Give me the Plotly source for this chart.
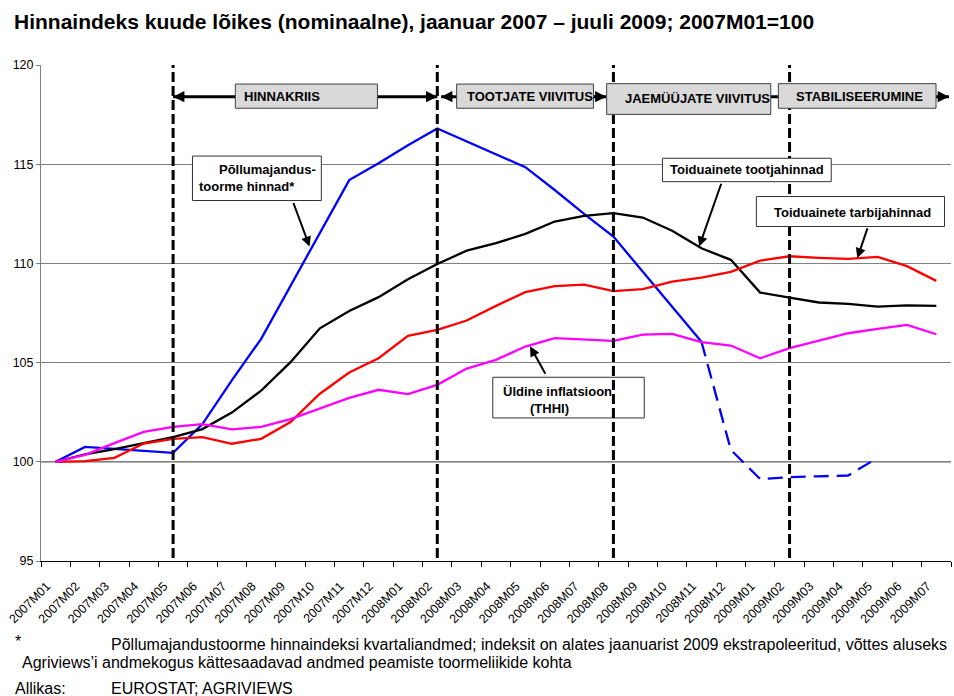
import plotly.graph_objects as go

# ---------------- data ----------------
months = ["2007M01", "2007M02", "2007M03", "2007M04", "2007M05", "2007M06", "2007M07",
          "2007M08", "2007M09", "2007M10", "2007M11", "2007M12", "2008M01", "2008M02",
          "2008M03", "2008M04", "2008M05", "2008M06", "2008M07", "2008M08", "2008M09",
          "2008M10", "2008M11", "2008M12", "2009M01", "2009M02", "2009M03", "2009M04",
          "2009M05", "2009M06", "2009M07"]

agri_raw = [100.0, 100.75, 100.65, 100.55, 100.45, 101.9, 104.1, 106.2, 108.85, 111.5,
            114.2, 115.05, 115.95, 116.8, 116.15, 115.5, 114.85, 113.7, 112.5, 111.35,
            109.6, 107.85, 106.05, 100.6, 99.13, 99.23, 99.27, 99.31, 100.2, None, None]
extrap_from = "2008M11"   # last actual point; afterwards extrapolated (dashed)

producer = [100.0, 100.38, 100.64, 100.94, 101.24, 101.65, 102.48, 103.59, 105.02, 106.73,
            107.6, 108.3, 109.2, 109.97, 110.64, 111.02, 111.49, 112.11, 112.39, 112.53,
            112.31, 111.65, 110.76, 110.18, 108.53, 108.28, 108.03, 107.96, 107.82, 107.88,
            107.86]

consumer = [100.0, 100.03, 100.2, 100.92, 101.16, 101.24, 100.91, 101.16, 102.0, 103.43,
            104.5, 105.22, 106.35, 106.65, 107.12, 107.86, 108.55, 108.85, 108.93, 108.6,
            108.7, 109.08, 109.28, 109.57, 110.14, 110.36, 110.28, 110.23, 110.33, 109.86,
            109.12]

hicp = [100.0, 100.35, 100.94, 101.51, 101.76, 101.9, 101.63, 101.76, 102.15, 102.69,
        103.22, 103.63, 103.41, 103.88, 104.7, 105.14, 105.81, 106.23, 106.15, 106.1,
        106.41, 106.45, 106.03, 105.86, 105.22, 105.73, 106.11, 106.48, 106.7, 106.9,
        106.43]

phase_bounds = ["2007M05", "2008M02", "2008M08", "2009M02"]
phase_names = ["HINNAKRIIS", "TOOTJATE VIIVITUS", "JAEMÜÜJATE VIIVITUS", "STABILISEERUMINE"]

title_text = "Hinnaindeks kuude lõikes (nominaalne), jaanuar 2007 – juuli 2009; 2007M01=100"
footnote_1 = "Põllumajandustoorme hinnaindeksi kvartaliandmed; indeksit on alates jaanuarist 2009 ekstrapoleeritud, võttes aluseks"
footnote_2 = "Agriviews’i andmekogus kättesaadavad andmed peamiste toormeliikide kohta"
source_label = "Allikas:"
source_text = "EUROSTAT; AGRIVIEWS"

# ---------------- figure ----------------
FONT = "Liberation Sans, Arial, sans-serif"
k = months.index(extrap_from)
agri_actual = [v if i <= k else None for i, v in enumerate(agri_raw)]
agri_extrap = [v if i >= k else None for i, v in enumerate(agri_raw)]

fig = go.Figure()
fig.add_trace(go.Scatter(x=months, y=agri_actual, mode="lines",
                         line=dict(color="#0000FF", width=2.3)))
fig.add_trace(go.Scatter(x=months, y=agri_extrap, mode="lines",
                         line=dict(color="#0000FF", width=2.3, dash="15px,8px")))
fig.add_trace(go.Scatter(x=months, y=producer, mode="lines",
                         line=dict(color="#000000", width=2.3)))
fig.add_trace(go.Scatter(x=months, y=consumer, mode="lines",
                         line=dict(color="#FF0000", width=2.3)))
fig.add_trace(go.Scatter(x=months, y=hicp, mode="lines",
                         line=dict(color="#FF00FF", width=2.3)))

shapes = []
annotations = []

# reference line at 100
shapes.append(dict(type="line", xref="paper", x0=0, x1=1, yref="y", y0=100, y1=100,
                   line=dict(color="black", width=1), layer="below"))

def box(x0, x1, y0, y1, fill="white", border="#333333"):
    shapes.append(dict(type="rect", xref="x", yref="y", x0=x0, x1=x1, y0=y0, y1=y1,
                       fillcolor=fill, line=dict(color=border, width=1), layer="above"))

def text(x, y, s, anchor="left", size=13):
    annotations.append(dict(x=x, y=y, xref="x", yref="y", text=s, showarrow=False,
                            xanchor=anchor, yanchor="middle",
                            font=dict(family=FONT, size=size, color="black")))

def arrow(xt, yt, xs, ys, width=2, size=1.0):
    annotations.append(dict(x=xt, y=yt, ax=xs, ay=ys, xref="x", yref="y", axref="x",
                            ayref="y", text="", showarrow=True, arrowhead=2,
                            arrowsize=size, arrowwidth=width, arrowcolor="black",
                            standoff=0, startstandoff=0))

# THHI box lies under the dashed phase lines
box(14.89, 20.05, 102.21, 104.26)

# dashed phase boundaries
pb = [months.index(m) for m in phase_bounds]
for xb in pb:
    shapes.append(dict(type="line", xref="x", yref="y", x0=xb, x1=xb, y0=95.15, y1=120,
                       line=dict(color="black", width=3, dash="10px,4px"), layer="above"))

# horizontal phase arrows (shafts)
ya = 118.4
segs = [(pb[0], pb[1]), (pb[1] + 0.13, 18.76), (pb[2], pb[3]), (pb[3], 30.43)]
for a, b in segs:
    shapes.append(dict(type="line", xref="x", yref="y", x0=a, x1=b, y0=ya, y1=ya,
                       line=dict(color="black", width=3), layer="above"))

# phase label boxes
GREY = "#D9D9D9"
box(6.12, 10.96, 117.82, 119.04, fill=GREY, border="#404040")
box(13.66, 18.32, 117.82, 119.04, fill=GREY, border="#404040")
box(18.77, 24.36, 117.51, 119.06, fill=GREY, border="#404040")
box(24.62, 29.99, 117.82, 119.06, fill=GREY, border="#404040")
text(6.35, 118.40, "<b>%s</b>" % phase_names[0])
text(13.96, 118.40, "<b>%s</b>" % phase_names[1])
text(19.31, 118.32, "<b>%s</b>" % phase_names[2])
text(25.15, 118.43, "<b>%s</b>" % phase_names[3])

# arrowheads of the phase arrows
heads = [(pb[0], -1), (pb[1], 1), (pb[1] + 0.13, -1), (18.76, 1), (30.43, 1)]
for xt, d in heads:
    arrow(xt, ya, xt - d * 0.45, ya, width=3, size=0.75)

# callout boxes
box(4.66, 9.05, 113.17, 115.41)
text(8.92, 114.71, "<b>Põllumajandus-</b>", anchor="right")
text(4.80, 113.87, "<b>toorme hinnad*</b>")
arrow(8.65, 110.85, 8.08, 113.12)

box(20.67, 26.42, 114.12, 115.30)
text(23.55, 114.71, "<b>Toiduainete tootjahinnad</b>", anchor="center")
arrow(21.92, 110.85, 22.69, 114.09)

box(23.87, 30.28, 111.86, 113.37)
text(27.13, 112.58, "<b>Toiduainete tarbijahinnad</b>", anchor="center")
arrow(27.31, 110.27, 27.67, 111.84)

text(15.18, 103.55, "<b>Üldine inflatsioon</b>")
text(16.83, 102.67, "<b>(THHI)</b>", anchor="center")
arrow(16.16, 105.82, 16.71, 104.36)

# footnotes (paper coords)
def ptext(px, py, s, size=16):
    annotations.append(dict(x=(px - 41) / 910, y=(561 - py) / 496, xref="paper", yref="paper",
                            text=s, showarrow=False, xanchor="left", yanchor="middle",
                            font=dict(family=FONT, size=size, color="black")))

ptext(13, 641, "*")
ptext(109, 644, footnote_1)
ptext(20, 662, footnote_2)
ptext(13, 688, source_label)
ptext(109, 688, source_text)

fig.update_layout(
    width=954, height=696,
    margin=dict(l=41, r=3, t=65, b=135),
    plot_bgcolor="white", paper_bgcolor="white",
    showlegend=False,
    title=dict(text="<b>%s</b>" % title_text, xref="container", yref="container",
               x=14 / 954, xanchor="left", y=1 - 22 / 696, yanchor="middle",
               font=dict(family=FONT, size=21, color="black")),
    shapes=shapes, annotations=annotations,
    xaxis=dict(type="category", categoryorder="array", categoryarray=months,
               range=[-0.5, len(months) - 0.5], tickangle=-45, tickson="boundaries",
               ticks="outside", ticklen=5, tickcolor="black", showline=True,
               linecolor="black", linewidth=1, showgrid=False, zeroline=False,
               ticklabelstandoff=12, ticklabelshift=-9,
               tickfont=dict(family=FONT, size=12.5, color="black")),
    yaxis=dict(range=[95, 120], dtick=5, tick0=95, showgrid=True, gridcolor="#808080",
               gridwidth=1, ticks="outside", ticklen=4, tickcolor="#808080",
               showline=True, linecolor="#808080", linewidth=1, zeroline=False,
               tickfont=dict(family=FONT, size=12.5, color="black")),
)

fig.write_html("out.html", config={"displayModeBar": False},
               post_script="document.body.style.margin='0';document.body.style.overflow='hidden';")
